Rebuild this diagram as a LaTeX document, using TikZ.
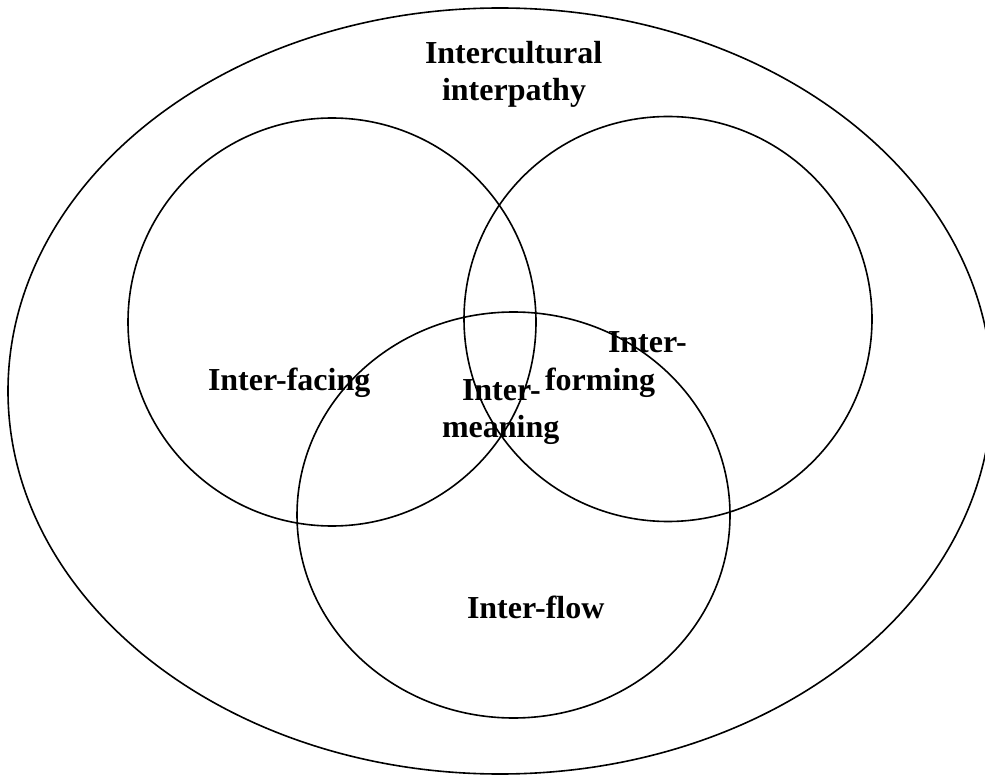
\documentclass[tikz,border=0pt]{standalone}
\usepackage{fontspec}
\setmainfont{Liberation Serif}
\usetikzlibrary{shapes.geometric}
\begin{document}
\begin{tikzpicture}[x=1pt,y=-1pt,
  ring/.style={draw=black,line width=1.6pt,ellipse,inner sep=0pt,outer sep=0pt},
  lbl/.style={anchor=base west,inner sep=0pt,outer sep=0pt,font=\fontsize{32}{37}\selectfont\bfseries}]
\useasboundingbox (0,0) rectangle (985,775);
\begin{scope}
\clip (0,0) rectangle (985,775);
\node[ring,minimum width=984pt,minimum height=766pt] (outer) at (500,391) {};
\end{scope}
\node[ring,minimum width=408pt,minimum height=408pt] (left) at (332,322) {};
\node[ring,minimum width=408pt,minimum height=405pt] (right) at (668,319) {};
\node[ring,minimum width=433pt,minimum height=406pt] (bottom) at (513.5,515) {};
\node[lbl] (t1) at (425,64) {Intercultural};
\node[lbl] (t2) at (442,101) {interpathy};
\node[lbl] (facing) at (208,391) {Inter-facing};
\node[lbl] (form1) at (608,353) {Inter-};
\node[lbl] (form2) at (545,391) {forming};
\node[lbl] (mean1) at (462,400) {Inter-};
\node[lbl] (mean2) at (442,437) {meaning};
\node[lbl] (flow) at (467,618) {Inter-flow};
\end{tikzpicture}
\end{document}
